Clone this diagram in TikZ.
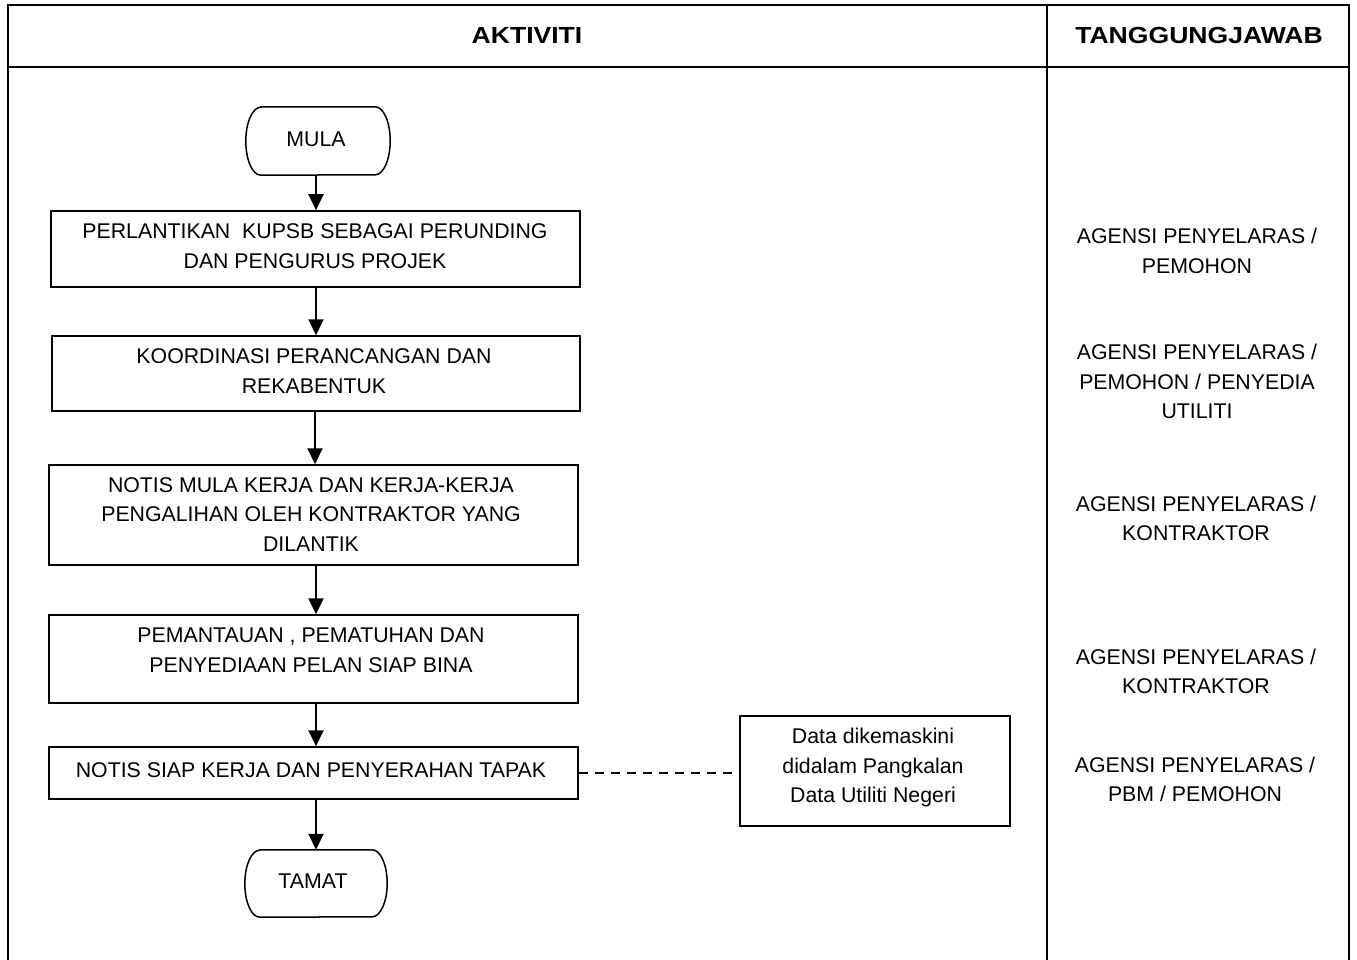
\documentclass[tikz,border=0pt]{standalone}
\usepackage{fontspec}
\setmainfont{Liberation Sans}
\usetikzlibrary{arrows.meta}
\begin{document}
\begin{tikzpicture}[x=1pt,y=-1pt,
  txt/.style={font=\fontsize{21.3}{29.5}\selectfont, align=center, inner sep=0pt},
  hdr/.style={font=\fontsize{23.3}{28}\selectfont\bfseries, inner sep=0pt},
  box/.style={draw, line width=1.5pt, inner sep=0pt},
  term/.style={inner sep=0pt, minimum width=144pt, minimum height=68pt},
  termline/.style={line width=1.5pt},
  arr/.style={line width=1.9pt, -{Triangle[width=15pt,length=16pt]}},
  frameline/.style={line width=2.4pt},
  dashline/.style={line width=1.5pt, dash pattern=on 9pt off 7pt}]
\useasboundingbox (0,0) rectangle (1357,960);
% frame
\draw[frameline] (8,975) -- (8,5) -- (1349,5) -- (1349,975);
\draw[frameline] (8,67) -- (1349,67);
\draw[frameline] (1047,5) -- (1047,975);
\node[hdr] (h1) at (527,35) {\scalebox{1.14}[1]{AKTIVITI}};
\node[hdr] (h2) at (1199,35) {\scalebox{1.14}[1]{TANGGUNGJAWAB}};
% terminal MULA
\node[term] (m) at (318,141) {};
\draw[termline] ([xshift=15pt]m.north west) -- ([xshift=-15pt]m.north east)
  arc[start angle=90,end angle=-90,x radius=15pt,y radius=34pt]
  -- ([xshift=15pt]m.south west)
  arc[start angle=270,end angle=90,x radius=15pt,y radius=34pt] -- cycle;
\node[txt] (mt) at (316,139) {MULA};
% boxes
\node[box, minimum width=529pt, minimum height=76pt] (b1) at (315.5,249) {};
\node[txt] (t1) at (315,246) {PERLANTIKAN\ \ KUPSB SEBAGAI PERUNDING\\DAN PENGURUS PROJEK};
\node[box, minimum width=528pt, minimum height=75pt] (b2) at (316,373.5) {};
\node[txt] (t2) at (314,371) {KOORDINASI PERANCANGAN DAN\\REKABENTUK};
\node[box, minimum width=529pt, minimum height=100pt] (b3) at (313.5,515) {};
\node[txt] (t3) at (311,514.5) {NOTIS MULA KERJA DAN KERJA-KERJA\\PENGALIHAN OLEH KONTRAKTOR YANG\\DILANTIK};
\node[box, minimum width=529pt, minimum height=88pt] (b4) at (313.5,659) {};
\node[txt] (t4) at (311,650.5) {PEMANTAUAN , PEMATUHAN DAN\\PENYEDIAAN PELAN SIAP BINA};
\node[box, minimum width=529pt, minimum height=52pt] (b5) at (313.5,773) {};
\node[txt] (t5) at (311,770) {NOTIS SIAP KERJA DAN PENYERAHAN TAPAK};
% terminal TAMAT
\node[term, minimum width=142pt, minimum height=67pt] (e) at (316,883.5) {};
\draw[termline] ([xshift=15pt]e.north west) -- ([xshift=-15pt]e.north east)
  arc[start angle=90,end angle=-90,x radius=15pt,y radius=33.5pt]
  -- ([xshift=15pt]e.south west)
  arc[start angle=270,end angle=90,x radius=15pt,y radius=33.5pt] -- cycle;
\node[txt] (et) at (313,881) {TAMAT};
% data box
\node[box, minimum width=270pt, minimum height=110pt] (d) at (875,771) {};
\node[txt] (dt) at (873,767.5) {Data dikemaskini\\didalam Pangkalan\\Data Utiliti Negeri};
% arrows
\draw[arr] (m.south -| 316,0) -- (316,0 |- b1.north);
\draw[arr] (316,0 |- b1.south) -- (316,0 |- b2.north);
\draw[arr] (315,0 |- b2.south) -- (315,0 |- b3.north);
\draw[arr] (316,0 |- b3.south) -- (316,0 |- b4.north);
\draw[arr] (316,0 |- b4.south) -- (316,0 |- b5.north);
\draw[arr] (316,0 |- b5.south) -- (316,0 |- e.north);
\draw[dashline] (b5.east) -- (b5.east -| d.west);
% responsibilities
\node[txt] (r1) at (1197,251) {AGENSI PENYELARAS /\\PEMOHON};
\node[txt] (r2) at (1197,381.5) {AGENSI PENYELARAS /\\PEMOHON / PENYEDIA\\UTILITI};
\node[txt] (r3) at (1196,518.5) {AGENSI PENYELARAS /\\KONTRAKTOR};
\node[txt] (r4) at (1196,671.5) {AGENSI PENYELARAS /\\KONTRAKTOR};
\node[txt] (r5) at (1195,779.5) {AGENSI PENYELARAS /\\PBM / PEMOHON};
\end{tikzpicture}
\end{document}
